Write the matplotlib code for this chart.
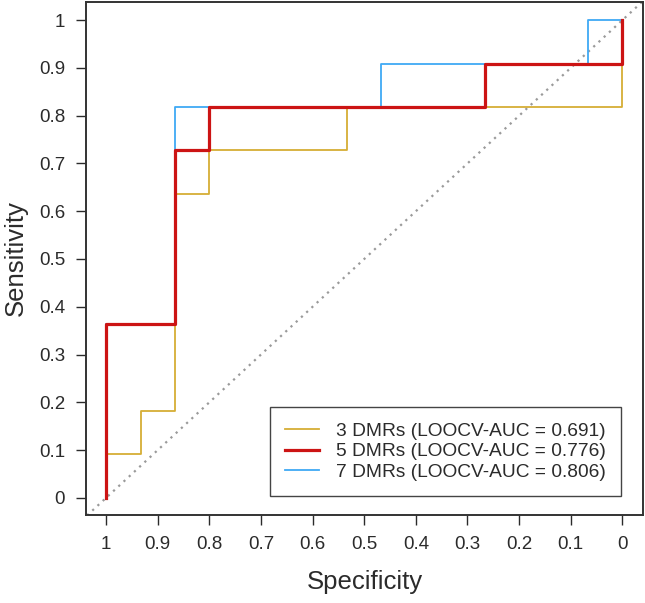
import matplotlib
matplotlib.use("Agg")
import matplotlib.pyplot as plt

# ROC step curves (specificity, sensitivity); 15 controls, 11 cases
spec_3 = [1.0, 1.0, 0.9333, 0.9333, 0.8667, 0.8667, 0.8, 0.8, 0.5333, 0.5333, 0.0, 0.0]
sens_3 = [0.0, 0.0909, 0.0909, 0.1818, 0.1818, 0.6364, 0.6364, 0.7273, 0.7273, 0.8182, 0.8182, 1.0]

spec_5 = [1.0, 1.0, 0.8667, 0.8667, 0.8, 0.8, 0.2667, 0.2667, 0.0, 0.0]
sens_5 = [0.0, 0.3636, 0.3636, 0.7273, 0.7273, 0.8182, 0.8182, 0.9091, 0.9091, 1.0]

spec_7 = [1.0, 1.0, 0.8667, 0.8667, 0.4667, 0.4667, 0.0667, 0.0667, 0.0]
sens_7 = [0.0, 0.3636, 0.3636, 0.8182, 0.8182, 0.9091, 0.9091, 1.0, 1.0]

labels = ["3 DMRs (LOOCV-AUC = 0.691)",
          "5 DMRs (LOOCV-AUC = 0.776)",
          "7 DMRs (LOOCV-AUC = 0.806)"]

ticks = [1, 0.9, 0.8, 0.7, 0.6, 0.5, 0.4, 0.3, 0.2, 0.1, 0]
tick_labels = ["1", "0.9", "0.8", "0.7", "0.6", "0.5", "0.4", "0.3", "0.2", "0.1", "0"]

C_YEL = "#D6AE35"
C_RED = "#CC1414"
C_BLU = "#3FA9F5"
C_TXT = "#2b2b2b"

plt.rcParams["font.family"] = ["Liberation Sans", "DejaVu Sans"]

fig = plt.figure(figsize=(6.45, 6.03), dpi=100)
ax = fig.add_axes([0.1333, 0.1459, 0.8636, 0.8508])

ax.axline((1, 0), (0, 1), color="#9a9a9a", lw=1.6, ls=(0, (1, 2.2)), zorder=1)

ax.step(spec_3, sens_3, where="post", color=C_YEL, lw=1.3, label=labels[0], zorder=2)
ax.step(spec_5, sens_5, where="post", color=C_RED, lw=2.3, label=labels[1], zorder=4)
ax.step(spec_7, sens_7, where="post", color=C_BLU, lw=1.3, label=labels[2], zorder=3)

ax.set_xlim(1.039, -0.04)
ax.set_ylim(-0.036, 1.038)
ax.set_xticks(ticks)
ax.set_xticklabels(tick_labels)
ax.set_yticks(ticks)
ax.set_yticklabels(tick_labels)
ax.tick_params(direction="out", length=7, width=1.0, color=C_TXT,
               labelsize=13.5, labelcolor=C_TXT)
ax.tick_params(axis="x", pad=8)
ax.tick_params(axis="y", pad=8)
for s in ax.spines.values():
    s.set_color("#333333")
    s.set_linewidth(1.4)

ax.set_xlabel("Specificity", fontsize=18.5, color=C_TXT, labelpad=12)
ax.set_ylabel("Sensitivity", fontsize=18.5, color=C_TXT, labelpad=8)

leg = ax.legend(loc="lower right", bbox_to_anchor=(0.9605, 0.037), borderaxespad=0,
                fontsize=13.8, fancybox=False, edgecolor="#444444",
                handlelength=1.8, handletextpad=0.85, labelspacing=0.15,
                borderpad=0.8, framealpha=1)
leg.get_frame().set_linewidth(1.0)
for t in leg.get_texts():
    t.set_color(C_TXT)

fig.savefig("out.png", dpi=100, facecolor="white")
